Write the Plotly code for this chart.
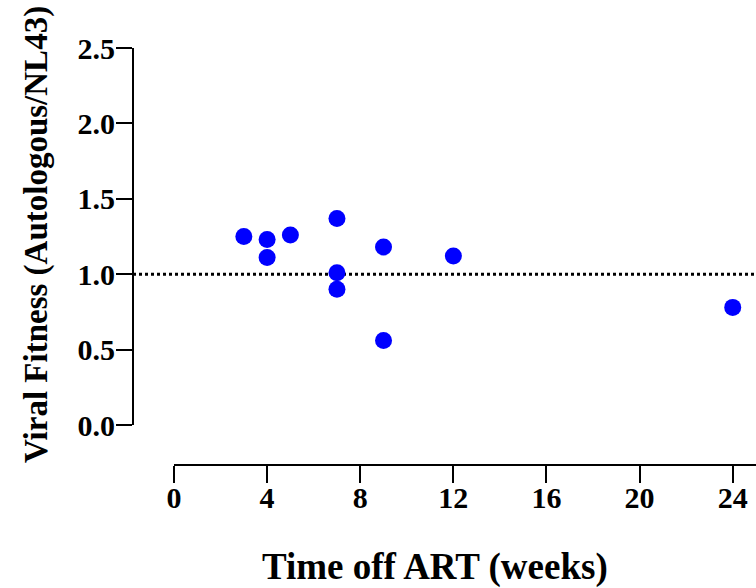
import plotly.graph_objects as go

weeks = [3, 4, 4, 5, 7, 7, 7, 9, 9, 12, 24]
fitness = [1.25, 1.23, 1.11, 1.26, 1.37, 1.01, 0.90, 1.18, 0.56, 1.12, 0.78]
x_ticks = [0, 4, 8, 12, 16, 20, 24]
y_ticks = [0.0, 0.5, 1.0, 1.5, 2.0, 2.5]
reference_level = 1.0

W, H = 756, 588
L, R, T, B = 133, 0, 48, 123
plot_w = W - L - R
plot_h = H - T - B
x_dom0 = (174 - L) / plot_w
y_dom0 = (465 - 425) / plot_h

font_family = "Liberation Serif, Times New Roman, serif"

fig = go.Figure()
fig.add_trace(go.Scatter(
    x=weeks, y=fitness, mode="markers",
    marker=dict(color="#0000FF", size=17, line=dict(width=0)),
    cliponaxis=False, showlegend=False,
))

fig.add_shape(type="line", xref="paper", yref="y", x0=0, x1=1,
              y0=reference_level, y1=reference_level,
              line=dict(color="black", width=3, dash="dot"), layer="below")

fig.update_layout(
    width=W, height=H,
    margin=dict(l=L, r=R, t=T, b=B),
    plot_bgcolor="white", paper_bgcolor="white",
    font=dict(family=font_family, size=30, color="black"),
    xaxis=dict(
        domain=[x_dom0, 1], range=[0, 25], anchor="free", position=0,
        tickvals=x_ticks, ticktext=[f"<b>{v}</b>" for v in x_ticks],
        showline=True, linecolor="black", linewidth=2,
        ticks="outside", ticklen=17, tickwidth=2, tickcolor="black",
        ticklabelstandoff=-11,
        showgrid=False, zeroline=False,
        tickfont=dict(family=font_family, size=30, color="black"),
    ),
    yaxis=dict(
        domain=[y_dom0, 1], range=[0, 2.5], anchor="free", position=0,
        tickvals=y_ticks, ticktext=[f"<b>{v:.1f}</b>" for v in y_ticks],
        showline=True, linecolor="black", linewidth=2,
        ticks="outside", ticklen=16, tickwidth=2, tickcolor="black",
        ticklabelstandoff=-5,
        showgrid=False, zeroline=False,
        tickfont=dict(family=font_family, size=30, color="black"),
    ),
    annotations=[
        dict(text="<b>Time off ART (weeks)</b>", xref="paper", yref="paper",
             x=(435 - L) / plot_w, y=(465 - 567) / plot_h, xanchor="center", yanchor="middle",
             showarrow=False, font=dict(family=font_family, size=37, color="black")),
        dict(text="<b>Viral Fitness (Autologous/NL43)</b>", xref="paper", yref="paper",
             x=(36 - L) / plot_w, y=(465 - 235) / plot_h, xanchor="center", yanchor="middle",
             textangle=-90, showarrow=False,
             font=dict(family=font_family, size=33, color="black")),
    ],
)

fig.write_html("out.html")
